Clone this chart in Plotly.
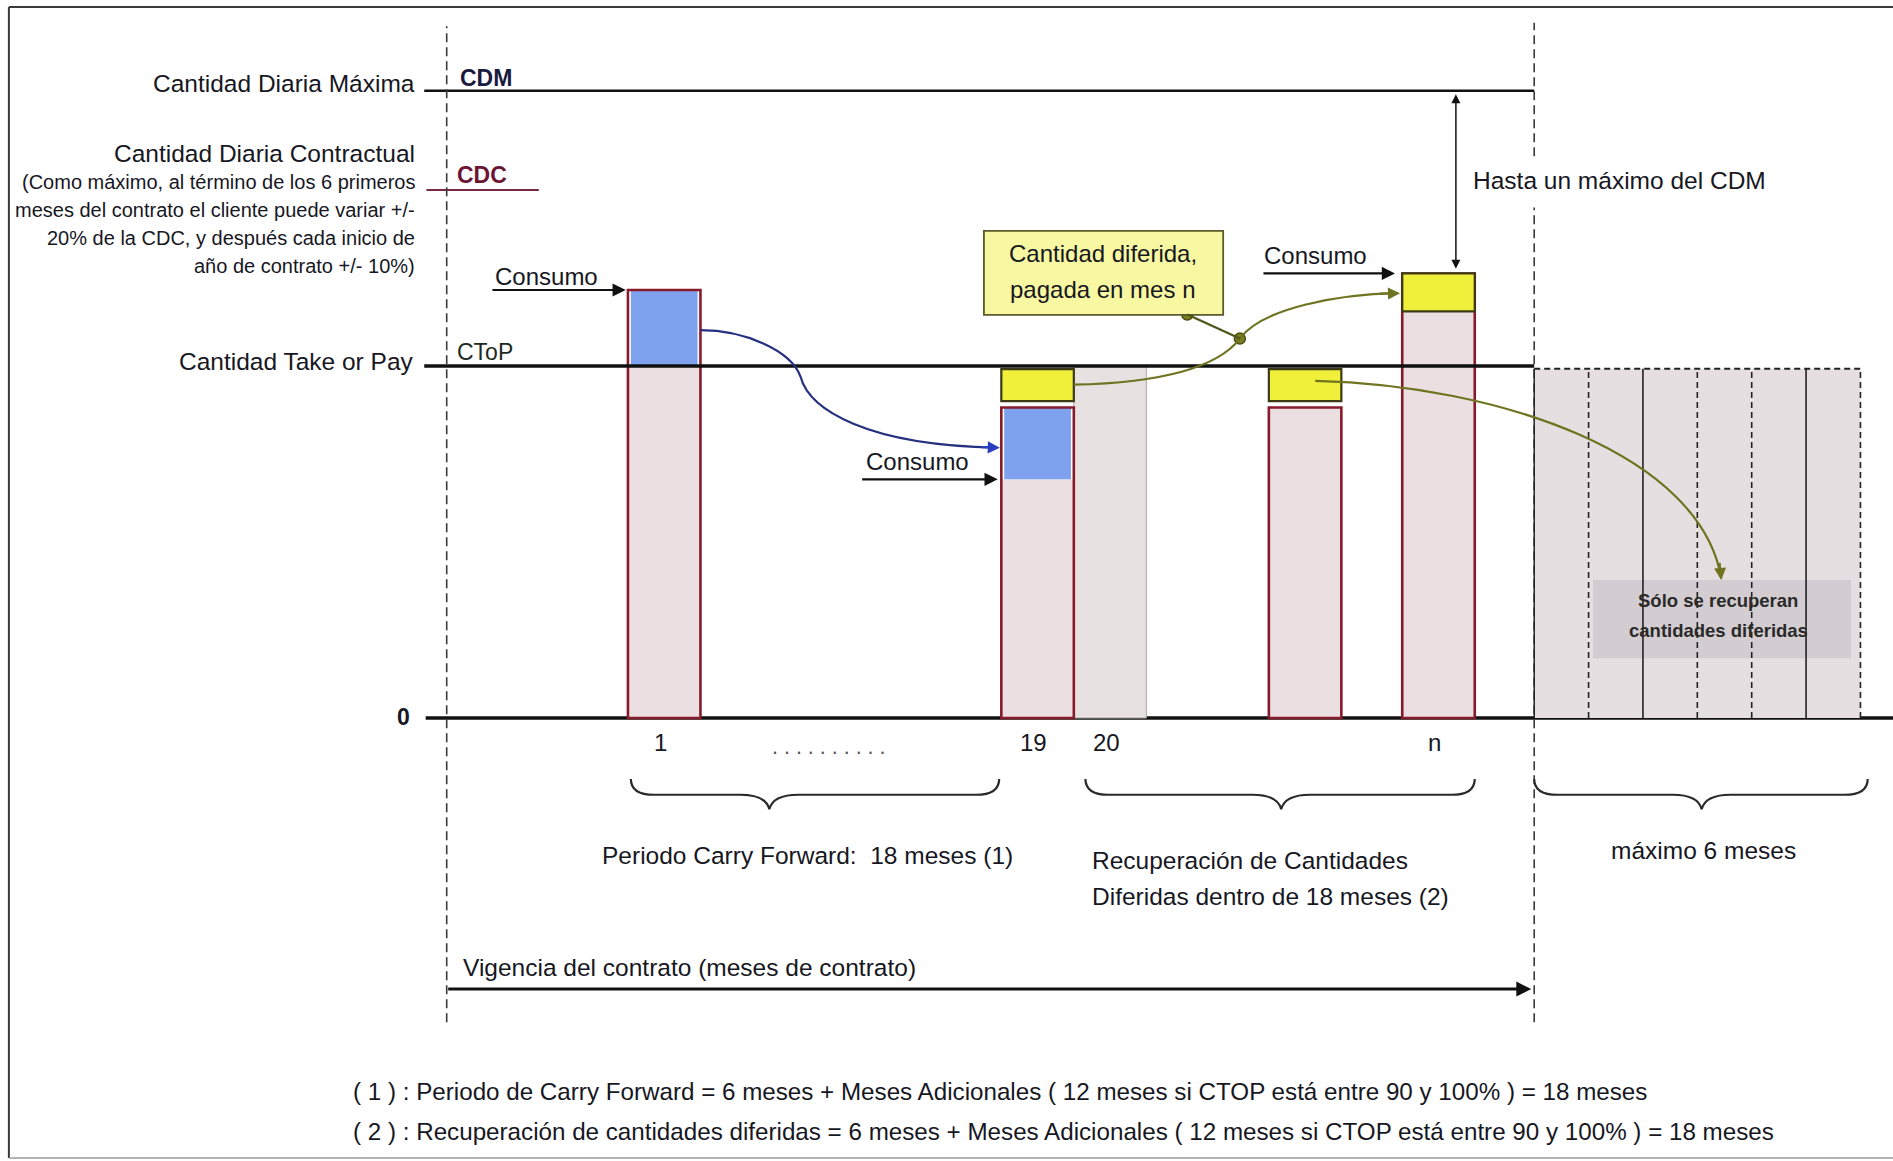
import plotly.graph_objects as go

# ---------------------------------------------------------------
# Niveles contractuales (unidades arbitrarias, CToP = 100)
# ---------------------------------------------------------------
CDM = 178.2
CDC = 150.0
CTOP = 100.0

# Meses representados sobre la línea de tiempo del contrato
MESES = ["1", "19", "20", "n-1", "n"]
POS_MES = [3.0, 8.15, 9.15, 11.84, 13.68]          # posición en la línea de tiempo
ETIQUETA_MES = ["1", "19", "20", "", "n"]
TIPO_MES = ["consumo", "consumo", "pago", "consumo", "consumo"]
CONSUMO = [100.0, 67.8, 100.0, 88.2, 115.5]        # tramo rosado (desde 0)
CARRY_FWD = [21.6, 20.4, 0.0, 0.0, 0.0]            # tramo azul sobre el consumo
DIF_INI = [None, 90.0, None, 90.0, 115.5]          # cantidad diferida (amarillo)
DIF_FIN = [None, 99.1, None, 99.1, 126.3]
TOTAL = [121.6, 88.2, None, 88.2, 126.3]           # contorno de cada barra

# Periodo posterior al contrato: máximo 6 meses
FIN_CONTRATO = 15.0
N_MESES_EXTRA = 6
ANCHO_EXTRA = 0.75
NIVEL_EXTRA = 99.2
ESTILO_EXTRA = ["dash", "solid", "dash", "dash", "solid", "dash"]

# ---------------------------------------------------------------
FONT = "Liberation Sans, Arial, sans-serif"
TXT = "#17171f"
PINK = "#ebdfe2"
BLUE = "#7fa2ef"
YELLOW = "#f0f03a"
MAROON = "#871b2b"
PAGO = "#e8e1e2"
EXTRA = "#e6dfe1"
GREYBOX = "#d3cdd1"
CALLOUT = "#f8f8a2"
OLIVE = "#6e7420"
BLUE_LINE = "#25307f"

XR = [-6.1614, 19.949]
YR = [-125.85, 203.98]

fig = go.Figure()

# --- meses posteriores al contrato (fondo) ---
x_extra = [FIN_CONTRATO + ANCHO_EXTRA * (k + 0.5) for k in range(N_MESES_EXTRA)]
fig.add_bar(x=x_extra, y=[NIVEL_EXTRA] * N_MESES_EXTRA, base=0, width=ANCHO_EXTRA,
            marker=dict(color=EXTRA, line=dict(width=0)))

# --- mes pagado a nivel CToP ---
idx_p = [i for i, t in enumerate(TIPO_MES) if t == "pago"]
fig.add_bar(x=[POS_MES[i] for i in idx_p], y=[CONSUMO[i] for i in idx_p], base=0, width=1.0,
            marker=dict(color=PAGO, line=dict(color="#a8a4a5", width=1)))

# --- consumo propio ---
idx_c = [i for i, t in enumerate(TIPO_MES) if t == "consumo"]
fig.add_bar(x=[POS_MES[i] for i in idx_c], y=[CONSUMO[i] for i in idx_c], base=0, width=1.0,
            marker=dict(color=PINK, line=dict(width=0)))

# --- carry forward (azul) ---
idx_b = [i for i in range(len(MESES)) if CARRY_FWD[i] > 0]
fig.add_bar(x=[POS_MES[i] for i in idx_b], y=[CARRY_FWD[i] for i in idx_b],
            base=[CONSUMO[i] for i in idx_b], width=0.92,
            marker=dict(color=BLUE, line=dict(width=0)))

# --- contorno de los meses consumidos ---
idx_t = [i for i in range(len(MESES)) if TOTAL[i] is not None]
fig.add_bar(x=[POS_MES[i] for i in idx_t], y=[TOTAL[i] for i in idx_t], base=0, width=1.0,
            marker=dict(color="rgba(0,0,0,0)", line=dict(color=MAROON, width=2.6)))

# --- cantidad diferida (amarillo) ---
idx_y = [i for i in range(len(MESES)) if DIF_INI[i] is not None]
fig.add_bar(x=[POS_MES[i] for i in idx_y], y=[DIF_FIN[i] - DIF_INI[i] for i in idx_y],
            base=[DIF_INI[i] for i in idx_y], width=1.0,
            marker=dict(color=YELLOW, line=dict(color="#3c3a14", width=2.2)))

# --- niveles horizontales ---
fig.add_trace(go.Scatter(x=[-0.31, FIN_CONTRATO], y=[CDM, CDM], mode="lines",
                         line=dict(color="#111111", width=2.5)))
fig.add_trace(go.Scatter(x=[-0.28, 1.27], y=[CDC, CDC], mode="lines",
                         line=dict(color="#7a2a40", width=2)))
fig.add_trace(go.Scatter(x=[-0.31, FIN_CONTRATO], y=[CTOP, CTOP], mode="lines",
                         line=dict(color="#111111", width=3.5)))

for tr in fig.data:
    tr.update(showlegend=False, hoverinfo="skip")

shapes = []
# eje cero (debajo de las barras)
shapes.append(dict(type="line", xref="x", yref="y", x0=-0.29, x1=XR[1], y0=0, y1=0,
                   line=dict(color="#111111", width=3.5), layer="below"))

# marco
shapes.append(dict(type="line", xref="paper", yref="paper", x0=0.0047, x1=1, y0=0.994, y1=0.994,
                   line=dict(color="#3a3a3a", width=2)))
shapes.append(dict(type="line", xref="paper", yref="paper", x0=0.0047, x1=0.0047, y0=0.0026, y1=0.994,
                   line=dict(color="#3a3a3a", width=2)))
shapes.append(dict(type="line", xref="paper", yref="paper", x0=0.0047, x1=1, y0=0.0026, y1=0.0026,
                   line=dict(color="#9a9a9a", width=1.5)))

# ejes verticales discontinuos (inicio y fin del contrato)
DASH = "9px,5px"
shapes.append(dict(type="line", xref="x", yref="y", x0=0, x1=0, y0=-86.4, y1=196.5,
                   line=dict(color="#3a3a3a", width=1.6, dash=DASH)))
shapes.append(dict(type="line", xref="x", yref="y", x0=FIN_CONTRATO, x1=FIN_CONTRATO, y0=159.6, y1=197.5,
                   line=dict(color="#3a3a3a", width=1.6, dash=DASH)))
shapes.append(dict(type="line", xref="x", yref="y", x0=FIN_CONTRATO, x1=FIN_CONTRATO, y0=-86.4, y1=145.0,
                   line=dict(color="#3a3a3a", width=1.6, dash=DASH)))

# recuadro "Sólo se recuperan cantidades diferidas"
shapes.append(dict(type="rect", xref="x", yref="y", x0=15.81, x1=19.37, y0=17.0, y1=39.2,
                   fillcolor=GREYBOX, line=dict(width=0)))

# divisiones de los meses posteriores
shapes.append(dict(type="line", xref="x", yref="y", x0=FIN_CONTRATO, x1=FIN_CONTRATO, y0=0, y1=NIVEL_EXTRA,
                   line=dict(color="#222222", width=1.5)))
for k, est in enumerate(ESTILO_EXTRA):
    xb = FIN_CONTRATO + ANCHO_EXTRA * (k + 1)
    shapes.append(dict(type="line", xref="x", yref="y", x0=xb, x1=xb, y0=0, y1=NIVEL_EXTRA,
                       line=dict(color="#222222", width=1.6,
                                 dash="6px,4px" if est == "dash" else "solid")))
shapes.append(dict(type="line", xref="x", yref="y", x0=FIN_CONTRATO, x1=FIN_CONTRATO + ANCHO_EXTRA * N_MESES_EXTRA,
                   y0=NIVEL_EXTRA, y1=NIVEL_EXTRA, line=dict(color="#222222", width=2, dash="6px,4px")))

# recuadro de la cantidad diferida
shapes.append(dict(type="rect", xref="x", yref="y", x0=7.41, x1=10.71, y0=114.5, y1=138.4,
                   fillcolor=CALLOUT, line=dict(color="#5a5a2a", width=1.8)))

# curva azul: exceso del mes 1 recuperado en el mes 19
x1r = POS_MES[0] + 0.5
x19l = POS_MES[1] - 0.5
blue_path = (f"M {x1r},110.2 C 4.1,110.2 4.75,104.5 4.88,97 "
             f"C 5.0,87.5 5.8,77.5 {x19l - 0.06},76.8")
shapes.append(dict(type="path", xref="x", yref="y", path=blue_path,
                   line=dict(color=BLUE_LINE, width=2.2)))

# curva oliva: diferida del mes 19 pagada en el mes n
DOT_A = (10.215, 114.6)
DOT_B = (10.94, 107.8)
xnl = POS_MES[4] - 0.5
olive_path1 = (f"M {POS_MES[1] + 0.5},94.7 C 9.9,95.3 10.65,100 {DOT_B[0]},{DOT_B[1]} "
               f"C 11.25,116.5 12.3,120.4 {xnl - 0.06},120.7")
shapes.append(dict(type="path", xref="x", yref="y", path=olive_path1,
                   line=dict(color=OLIVE, width=2.2)))
shapes.append(dict(type="line", xref="x", yref="y", x0=DOT_A[0], y0=DOT_A[1], x1=DOT_B[0], y1=DOT_B[1],
                   line=dict(color="#4f5418", width=2.2)))

# curva oliva: diferida del mes n-1 hacia los meses posteriores
olive_path2 = f"M {POS_MES[3] + 0.14},95.8 C 14.5,94.6 17.3,75 17.58,39.6"
shapes.append(dict(type="path", xref="x", yref="y", path=olive_path2,
                   line=dict(color=OLIVE, width=2.2)))


def llave(x0, x1, xm, y_top=-17.3, y_line=-21.8, y_tip=-25.9, r=0.32, v=0.4):
    return (f"M {x0},{y_top} Q {x0},{y_line} {x0 + r},{y_line} L {xm - v},{y_line} "
            f"Q {xm - 0.05},{y_line} {xm},{y_tip} Q {xm + 0.05},{y_line} {xm + v},{y_line} "
            f"L {x1 - r},{y_line} Q {x1},{y_line} {x1},{y_top}")


for a, b, m in [(2.54, 7.62, 4.45), (8.81, 14.18, 11.51), (15.0, 19.6, 17.31)]:
    shapes.append(dict(type="path", xref="x", yref="y", path=llave(a, b, m),
                       line=dict(color="#2a2a2a", width=2.2)))

fig.update_layout(shapes=shapes)

# puntos del conector
fig.add_trace(go.Scatter(x=[DOT_A[0], DOT_B[0]], y=[DOT_A[1], DOT_B[1]], mode="markers",
                         marker=dict(size=11, color="#7b7f22", line=dict(color="#4a4e12", width=1.5)),
                         showlegend=False, hoverinfo="skip"))


def texto(x, y, s, size=24.5, xa="center", ya="middle", color=TXT, bold=False, family=FONT):
    fig.add_annotation(x=x, y=y, xref="x", yref="y", text=f"<b>{s}</b>" if bold else s,
                       showarrow=False, xanchor=xa, yanchor=ya,
                       font=dict(family=family, size=size, color=color))


def flecha(xt, yt, xs, ys, color="#111111", width=2.2, size=1.2, side="end"):
    fig.add_annotation(x=xt, y=yt, ax=xs, ay=ys, xref="x", yref="y", axref="x", ayref="y",
                       text="", showarrow=True, arrowhead=2, arrowsize=size, arrowwidth=width,
                       arrowcolor=color, standoff=0, startstandoff=0, arrowside=side)


# etiquetas del eje vertical
texto(-0.4166, 180.4, "Cantidad Diaria Máxima", xa="right")
texto(0.149, 181.8, "CDM", size=23, xa="left", color="#1a1a40", bold=True)
texto(-0.41, 160.3, "Cantidad Diaria Contractual", xa="right")
for yy, s in zip([152.3, 144.4, 136.4, 128.5],
                 ["(Como máximo, al término de los 6 primeros",
                  "meses del contrato el cliente puede variar +/-",
                  "20% de la CDC, y después cada inicio de",
                  "año de contrato +/- 10%)"]):
    texto(-0.41, yy, s, size=20, xa="right")
texto(0.115, 154.3, "CDC", size=23, xa="left", color="#6b1533", bold=True)
texto(-0.43, 101.2, "Cantidad Take or Pay", xa="right")
texto(0.115, 104.1, "CToP", size=23, xa="left", color="#1d2b1d")
texto(-0.479, 0.2, "<b>0</b>", size=23, xa="right")

# consumo
texto(1.377, 125.4, "Consumo", size=24)
flecha(POS_MES[0] - 0.53, TOTAL[0], 0.61, TOTAL[0])
texto(6.50, 72.8, "Consumo", size=24)
flecha(POS_MES[1] - 0.55, CONSUMO[1], 5.71, CONSUMO[1])
texto(11.985, 131.5, "Consumo", size=24)
flecha(POS_MES[4] - 0.6, TOTAL[4], 11.245, TOTAL[4])

# puntas de flecha de las curvas
flecha(x19l - 0.02, 76.8, x19l - 0.3, 76.95, color="#2a3fbf", width=2.2, size=1.1)
flecha(xnl - 0.03, 120.7, xnl - 0.33, 120.55, color=OLIVE, width=2.2, size=1.1)
flecha(17.58, 39.2, 17.555, 44.5, color=OLIVE, width=2.2, size=1.1)

# recuadro de la cantidad diferida
texto(9.05, 132.0, "Cantidad diferida,", size=24)
texto(9.05, 121.6, "pagada en mes n", size=24)

# hasta un máximo del CDM
flecha(13.92, TOTAL[4] + 1.3, 13.92, CDM - 0.6, width=1.5, size=1.2, side="end+start")
texto(14.13, 152.8, "Hasta un máximo del CDM", xa="left")

# meses en el eje
for p, lab in zip(POS_MES, ETIQUETA_MES):
    if lab:
        texto(p - 0.05, -7.0, lab, size=24)
texto(5.27, -8.3, ". . . . . . . . . .", size=21.5, color="#555555")

texto(17.54, 33.5, "Sólo se recuperan", size=18.5, bold=True, color="#2a2a2a")
texto(17.54, 25.0, "cantidades diferidas", size=18.5, bold=True, color="#2a2a2a")

# descripciones de las llaves
texto(4.97, -39.2, "Periodo Carry Forward:  18 meses (1)")
texto(8.873, -40.5, "Recuperación de Cantidades", xa="left")
texto(8.873, -50.8, "Diferidas dentro de 18 meses (2)", xa="left")
texto(17.34, -37.5, "máximo 6 meses")

# vigencia del contrato
texto(0.193, -71.0, "Vigencia del contrato (meses de contrato)", xa="left")
flecha(FIN_CONTRATO - 0.04, -77.0, 0.0, -77.0, width=3, size=1.0)

# notas
texto(-1.323, -106.1, "( 1 ) : Periodo de Carry Forward = 6 meses + Meses Adicionales "
                      "( 12 meses si CTOP está entre 90 y 100% ) = 18 meses", size=24.2, xa="left")
texto(-1.323, -117.6, "( 2 ) : Recuperación de cantidades diferidas = 6 meses + Meses Adicionales "
                      "( 12 meses si CTOP está entre 90 y 100% ) = 18 meses", size=24.2, xa="left")

fig.update_layout(
    width=1893, height=1161, autosize=False,
    margin=dict(l=0, r=0, t=0, b=0),
    paper_bgcolor="white", plot_bgcolor="white",
    barmode="overlay", showlegend=False,
    xaxis=dict(range=XR, visible=False, fixedrange=True),
    yaxis=dict(range=YR, visible=False, fixedrange=True),
)

fig.write_html("out.html")
